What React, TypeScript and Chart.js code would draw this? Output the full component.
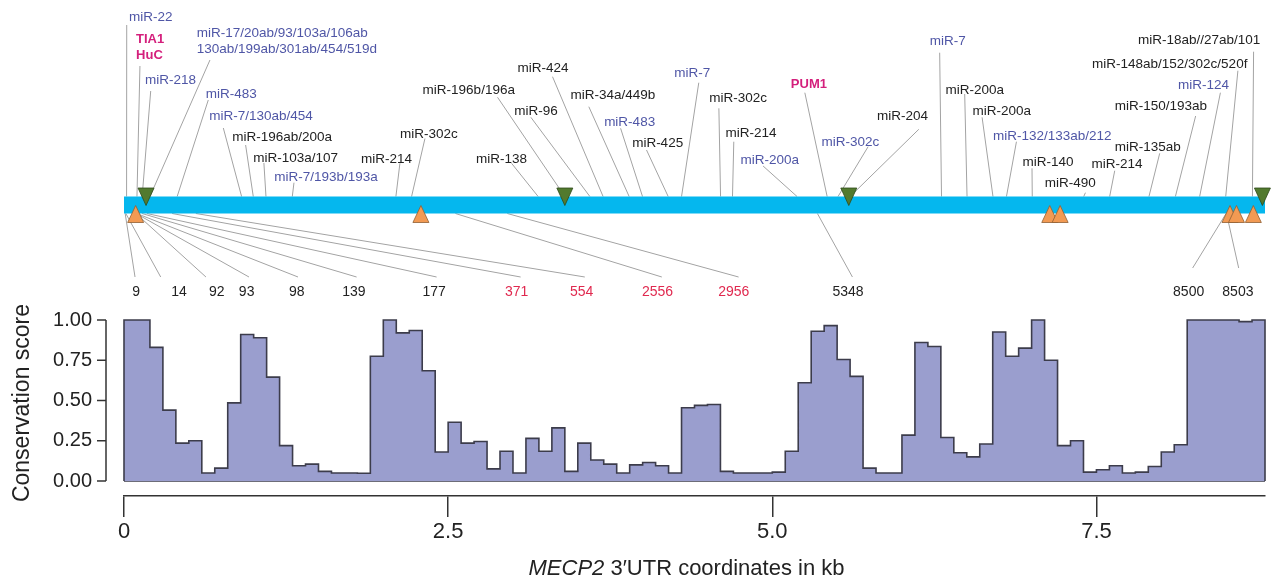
import React, { useEffect, useRef } from 'react';
import { Chart, registerables } from 'chart.js';

Chart.register(...registerables);

// ---------------- DATA ----------------
const BIN_KB = 0.1;
const UTR_LENGTH_KB = 8.8;

// conservation score per 100-nt bin
const conservationScores = [
  1.0, 1.0, 0.83, 0.44, 0.235, 0.25, 0.05, 0.08, 0.485, 0.91,
  0.89, 0.645, 0.22, 0.095, 0.105, 0.06, 0.05, 0.05, 0.048, 0.775,
  1.0, 0.92, 0.935, 0.685, 0.18, 0.365, 0.235, 0.245, 0.075, 0.185,
  0.05, 0.265, 0.185, 0.33, 0.06, 0.235, 0.13, 0.105, 0.05, 0.1,
  0.115, 0.095, 0.05, 0.455, 0.47, 0.475, 0.06, 0.05, 0.05, 0.05,
  0.055, 0.185, 0.61, 0.93, 0.965, 0.755, 0.65, 0.08, 0.05, 0.05,
  0.285, 0.86, 0.835, 0.27, 0.175, 0.15, 0.23, 0.925, 0.775, 0.825,
  1.0, 0.75, 0.22, 0.25, 0.055, 0.07, 0.095, 0.05, 0.055, 0.09,
  0.18, 0.225, 1.0, 1.0, 1.0, 1.0, 0.99, 1.0,
];

const X_TICKS = [0, 2.5, 5, 7.5];
const Y_TICKS = [0, 0.25, 0.5, 0.75, 1];

// miRNA / RNA-binding-protein sites along the 3'UTR
const siteLabels = [
  'miR-22', 'TIA1\nHuC', 'miR-218', 'miR-17/20ab/93/103a/106ab\n130ab/199ab/301ab/454/519d',
  'miR-483', 'miR-7/130ab/454', 'miR-196ab/200a', 'miR-103a/107', 'miR-7/193b/193a',
  'miR-214', 'miR-302c', 'miR-138', 'miR-196b/196a', 'miR-96', 'miR-424', 'miR-34a/449b',
  'miR-483', 'miR-425', 'miR-7', 'miR-302c', 'miR-214', 'miR-200a', 'PUM1', 'miR-302c',
  'miR-204', 'miR-7', 'miR-200a', 'miR-200a', 'miR-132/133ab/212', 'miR-140', 'miR-490',
  'miR-214', 'miR-135ab', 'miR-150/193ab', 'miR-124', 'miR-148ab/152/302c/520f',
  'miR-18ab//27ab/101',
];
const siteKb = [
  0.02, 0.1, 0.14, 0.2, 0.41, 0.907, 0.997, 1.095, 1.298, 2.097, 2.218, 3.194, 3.4,
  3.593, 3.695, 3.896, 3.999, 4.197, 4.3, 4.601, 4.693, 5.191, 5.423, 5.507, 5.6, 6.305,
  6.502, 6.702, 6.806, 7.005, 7.402, 7.602, 7.905, 8.109, 8.296, 8.497, 8.703,
];
// 'c' = conserved miRNA (blue), 'n' = other miRNA (black), 'p' = RNA-binding protein
const siteKind = [
  'c', 'p', 'c', 'c', 'c', 'c', 'n', 'n', 'c', 'n', 'n', 'n', 'n', 'n', 'n', 'n', 'c', 'n',
  'c', 'n', 'n', 'c', 'p', 'c', 'n', 'c', 'n', 'n', 'c', 'n', 'n', 'n', 'n', 'n', 'c', 'n', 'n',
];

// annotated nucleotide positions below the track
const markedPositionsNt = [9, 14, 92, 93, 98, 139, 177, 371, 554, 2556, 2956, 5348, 8500, 8503];
const markedHighlighted = [false, false, false, false, false, false, false, true, true, true, true, false, false, false];

// triangle markers on the track (kb)
const upMarkerKb = [0.09, 2.29, 7.14, 7.22, 8.53, 8.58, 8.71];
const downMarkerKb = [0.17, 3.4, 5.59, 8.78];

// ---------------- LAYOUT (label placement) ----------------
const labelLeftKb = [
  0.039, 0.093, 0.162, 0.561, 0.63, 0.658, 0.835, 0.997, 1.159, 1.827, 2.128, 2.714, 2.303,
  3.009, 3.035, 3.444, 3.703, 3.919, 4.243, 4.513, 4.639, 4.755, 5.143, 5.379, 5.808, 6.214,
  6.335, 6.544, 6.702, 6.929, 7.101, 7.461, 7.641, 7.641, 8.129, 7.466, 7.82,
];
const labelTextY = [
  16, 38, 79, 32, 93, 115, 136, 157, 176, 158, 133, 158, 89, 110, 67, 94, 121, 142, 72, 97,
  132, 159, 83, 141, 115, 40.5, 89, 110, 135, 161, 182, 163, 146.5, 105, 84, 63, 39.5,
];
const leaderTopKb = [
  0.021, 0.123, 0.206, 0.663, 0.65, 0.766, 0.938, 1.079, 1.311, 2.128, 2.321, 2.989, 2.881,
  3.138, 3.305, 3.585, 3.83, 4.03, 4.433, 4.588, 4.703, 4.929, 5.251, 5.739, 6.13, 6.291,
  6.484, 6.618, 6.883, 7.003, 7.415, 7.641, 7.988, 8.265, 8.456, 8.591, 8.712,
];
const leaderTopY = [
  25, 66, 91, 60, 100, 128, 145, 163, 182.7, 163.3, 138.5, 163.3, 97.3, 117.3, 76.7, 106.7,
  128.3, 150, 82.7, 108.3, 141.7, 166, 92.7, 146.7, 129.3, 52.7, 94, 117.3, 141.7, 168.3,
  192.7, 170.7, 153.3, 116, 92.7, 70.7, 51.7,
];
const markedLabelKb = [0.093, 0.424, 0.715, 0.946, 1.332, 1.773, 2.392, 3.028, 3.529, 4.115, 4.703, 5.584, 8.211, 8.591];
const markedLeaderKb = [0.085, 0.283, 0.632, 0.964, 1.342, 1.794, 2.411, 3.059, 3.554, 4.148, 4.74, 5.618, 8.242, 8.597];
const markedLeaderY = [277, 277, 277, 277, 277, 277, 277, 277, 277, 277, 277, 277, 268, 268];

const FONT = '"Liberation Sans", Arial, Helvetica, sans-serif';
const BAR_TOP = 196.5;
const BAR_BOTTOM = 213.5;
const KIND_COLOR: Record<string, string> = { c: '#4f56a6', n: '#222222', p: '#d41f7c' };

const trackPlugin = {
  id: 'utrTrack',
  afterDraw(chart: any) {
    const ctx: CanvasRenderingContext2D = chart.ctx;
    const xs = chart.scales.x;
    const ysc = chart.scales.y;
    const px = (kb: number) => xs.getPixelForValue(kb);
    ctx.save();

    // leader lines
    ctx.strokeStyle = '#a3a3a3';
    ctx.lineWidth = 1;
    siteKb.forEach((kb, i) => {
      ctx.beginPath();
      ctx.moveTo(px(kb), BAR_TOP);
      ctx.lineTo(px(leaderTopKb[i]), leaderTopY[i]);
      ctx.stroke();
    });
    markedPositionsNt.forEach((nt, i) => {
      ctx.beginPath();
      ctx.moveTo(px(nt / 1000), BAR_BOTTOM);
      ctx.lineTo(px(markedLeaderKb[i]), markedLeaderY[i]);
      ctx.stroke();
    });

    // UTR bar
    ctx.fillStyle = '#05b7ee';
    ctx.fillRect(px(0), BAR_TOP, px(UTR_LENGTH_KB) - px(0), BAR_BOTTOM - BAR_TOP);

    // up (orange) markers
    ctx.lineWidth = 0.8;
    upMarkerKb.forEach((kb) => {
      const cx = px(kb);
      ctx.beginPath();
      ctx.moveTo(cx, 205.5);
      ctx.lineTo(cx + 8, 222.5);
      ctx.lineTo(cx - 8, 222.5);
      ctx.closePath();
      ctx.fillStyle = '#f29a53';
      ctx.fill();
      ctx.strokeStyle = '#8f5f33';
      ctx.stroke();
    });
    // down (green) markers
    downMarkerKb.forEach((kb) => {
      const cx = px(kb);
      ctx.beginPath();
      ctx.moveTo(cx - 8, 188);
      ctx.lineTo(cx + 8, 188);
      ctx.lineTo(cx, 205.5);
      ctx.closePath();
      ctx.fillStyle = '#527a2e';
      ctx.fill();
      ctx.strokeStyle = '#2e4a1a';
      ctx.stroke();
    });

    // site labels
    ctx.textAlign = 'left';
    ctx.textBaseline = 'alphabetic';
    siteLabels.forEach((label, i) => {
      const kind = siteKind[i];
      const size = kind === 'p' ? 13 : 13.5;
      ctx.font = `${kind === 'p' ? 'bold ' : ''}${size}px ${FONT}`;
      ctx.fillStyle = KIND_COLOR[kind];
      label.split('\n').forEach((line, j) => {
        ctx.fillText(line, px(labelLeftKb[i]), labelTextY[i] + j * 16.5 + size * 0.36);
      });
    });

    // position labels
    ctx.textAlign = 'center';
    ctx.font = `14px ${FONT}`;
    markedPositionsNt.forEach((nt, i) => {
      ctx.fillStyle = markedHighlighted[i] ? '#e0294f' : '#222222';
      ctx.fillText(String(nt), px(markedLabelKb[i]), 296);
    });

    // detached y axis (range frame 0..1)
    const axisX = chart.chartArea.left - 18;
    ctx.strokeStyle = '#333333';
    ctx.lineWidth = 1.5;
    ctx.beginPath();
    ctx.moveTo(axisX, ysc.getPixelForValue(Y_TICKS[0]));
    ctx.lineTo(axisX, ysc.getPixelForValue(Y_TICKS[Y_TICKS.length - 1]));
    ctx.stroke();
    Y_TICKS.forEach((v) => {
      const y = ysc.getPixelForValue(v);
      ctx.beginPath();
      ctx.moveTo(axisX - 9, y);
      ctx.lineTo(axisX, y);
      ctx.stroke();
    });

    // y title
    ctx.fillStyle = '#222222';
    ctx.font = `23px ${FONT}`;
    ctx.save();
    ctx.translate(22.5, 403);
    ctx.rotate(-Math.PI / 2);
    ctx.textAlign = 'center';
    ctx.textBaseline = 'middle';
    ctx.fillText('Conservation score', 0, 0);
    ctx.restore();

    // x title (gene name italic)
    const italicPart = 'MECP2';
    const plainPart = ' 3\u2032UTR coordinates in kb';
    ctx.font = `italic 22px ${FONT}`;
    const w1 = ctx.measureText(italicPart).width;
    ctx.font = `22px ${FONT}`;
    const w2 = ctx.measureText(plainPart).width;
    const cx = (chart.chartArea.left + chart.chartArea.right) / 2 - 8;
    const start = cx - (w1 + w2) / 2;
    ctx.textAlign = 'left';
    ctx.textBaseline = 'alphabetic';
    ctx.font = `italic 22px ${FONT}`;
    ctx.fillText(italicPart, start, 575);
    ctx.font = `22px ${FONT}`;
    ctx.fillText(plainPart, start + w1, 575);

    ctx.restore();
  },
};

export default function App() {
  const canvasRef = useRef<HTMLCanvasElement | null>(null);

  useEffect(() => {
    const canvas = canvasRef.current;
    if (!canvas) return;
    Chart.defaults.font.family = FONT;

    const stepPoints = [
      { x: 0, y: 0 },
      ...conservationScores.map((v, i) => ({ x: i * BIN_KB, y: v })),
      { x: UTR_LENGTH_KB, y: conservationScores[conservationScores.length - 1] },
      { x: UTR_LENGTH_KB, y: 0 },
    ];
    const baseline = [
      { x: 0, y: 0 },
      { x: UTR_LENGTH_KB, y: 0 },
    ];

    const chart = new Chart(canvas, {
      type: 'line',
      data: {
        datasets: [
          {
            label: 'Conservation score',
            data: stepPoints,
            stepped: 'before',
            fill: 'origin',
            backgroundColor: '#9a9ece',
            borderColor: '#3c3c4b',
            borderWidth: 1.6,
            pointRadius: 0,
            clip: false,
          } as any,
          {
            label: 'baseline',
            data: baseline,
            fill: false,
            borderColor: '#3c3c4b',
            borderWidth: 1.6,
            pointRadius: 0,
            clip: false,
          } as any,
        ],
      },
      options: {
        responsive: false,
        animation: false,
        devicePixelRatio: 1,
        layout: { padding: { top: 320, right: 6, left: 0, bottom: 0 } },
        plugins: {
          legend: { display: false },
          tooltip: { enabled: false },
          title: { display: false },
        },
        scales: {
          x: {
            type: 'linear',
            min: 0,
            max: UTR_LENGTH_KB,
            afterBuildTicks: (s: any) => {
              s.ticks = X_TICKS.map((v) => ({ value: v }));
            },
            afterFit: (s: any) => {
              s.height = 85;
            },
            grid: {
              display: true,
              drawOnChartArea: false,
              drawTicks: true,
              tickLength: 21,
              color: '#333333',
              lineWidth: 1.5,
            },
            border: { display: true, color: '#333333', width: 1.5 },
            ticks: {
              color: '#222222',
              font: { size: 22, family: FONT },
              padding: 2,
              maxRotation: 0,
              autoSkip: false,
              callback: (v: any) => (Number(v) === 0 ? '0' : Number(v).toFixed(1)),
            },
          },
          y: {
            type: 'linear',
            min: -0.0932,
            max: 1,
            afterBuildTicks: (s: any) => {
              s.ticks = Y_TICKS.map((v) => ({ value: v }));
            },
            afterFit: (s: any) => {
              s.width = 124;
            },
            grid: { display: false, drawTicks: false },
            border: { display: false },
            ticks: {
              color: '#222222',
              font: { size: 20, family: FONT },
              padding: 32,
              autoSkip: false,
              callback: (v: any) => Number(v).toFixed(2),
            },
          },
        },
      } as any,
      plugins: [trackPlugin],
    });

    return () => chart.destroy();
  }, []);

  return (
    <div style={{ position: 'absolute', left: 0, top: 0, width: 1271, height: 581, background: '#ffffff' }}>
      <canvas ref={canvasRef} width={1271} height={581} style={{ display: 'block', width: 1271, height: 581 }} />
    </div>
  );
}
